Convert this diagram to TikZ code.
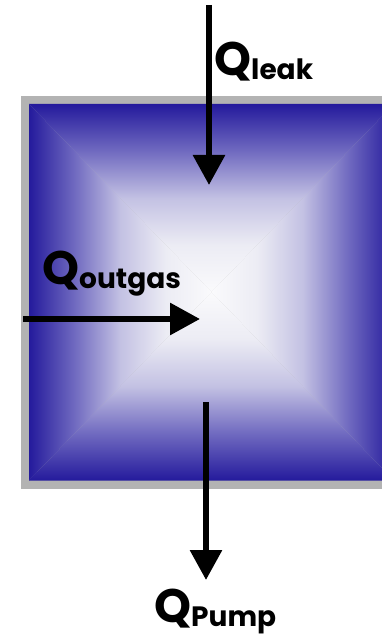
\documentclass[tikz,border=0pt]{standalone}
\usepackage{fontspec}
\newfontfamily\lblfont{Poppins}
\usetikzlibrary{arrows.meta}
\definecolor{rimgray}{RGB}{179,179,179}
\definecolor{cz}{RGB}{36,26,156}
\definecolor{ca}{RGB}{112,106,192}
\definecolor{cb}{RGB}{195,193,227}
\definecolor{cc}{RGB}{236,236,244}
\definecolor{cd}{RGB}{250,250,252}
\pgfdeclareverticalshading{edgefade}{100bp}{color(0bp)=(cd); color(25bp)=(cd); color(37.5bp)=(cc); color(50bp)=(cb); color(62.5bp)=(ca); color(75bp)=(cz); color(100bp)=(cz)}
\tikzset{
  flow/.style={line width=6pt, -{Triangle[width=31pt,length=30pt]}},
  qlabel/.style={anchor=base west, inner sep=0pt, font=\lblfont\bfseries},
  fade/.style={shading=edgefade, shading angle=#1}
}
\newcommand{\qq}[1]{{\fontsize{47}{47}\selectfont Q}\raisebox{-4pt}{\fontsize{28}{28}\selectfont #1}}
\begin{document}
\begin{tikzpicture}[x=1pt,y=-1pt]
\useasboundingbox (0,0) rectangle (382,639);
\begin{scope}
\clip (0,0) rectangle (382,639);
% gray rim
\fill[rimgray] (20.5,96) rectangle (402.5,488.5);
% pyramid shading
\coordinate (tl) at (29,104);
\coordinate (tr) at (394,104);
\coordinate (br) at (394,480.5);
\coordinate (bl) at (29,480.5);
\coordinate (ctr) at (211.5,292);
\shade[fade=0] (tl) -- (tr) -- (ctr) -- cycle;
\shade[fade=180] (bl) -- (br) -- (ctr) -- cycle;
\shade[fade=90] (tl) -- (bl) -- (ctr) -- cycle;
\shade[fade=270] (tr) -- (br) -- (ctr) -- cycle;
\end{scope}
% arrows
\coordinate (leakstart) at (209,5);
\coordinate (leakend) at (209,185);
\coordinate (outstart) at (23,319);
\coordinate (outend) at (200,319);
\coordinate (pumpstart) at (206,402);
\coordinate (pumpend) at (206,580);
\draw[flow] (leakstart) -- (leakend);
\draw[flow] (outstart) -- (outend);
\draw[flow] (pumpstart) -- (pumpend);
% labels
\node[qlabel] (qleak) at (214,76) {\qq{leak}};
\node[qlabel] (qout) at (42,284) {\qq{outgas}};
\node[qlabel] (qpump) at (154,622) {\qq{Pump}};
\end{tikzpicture}
\end{document}
